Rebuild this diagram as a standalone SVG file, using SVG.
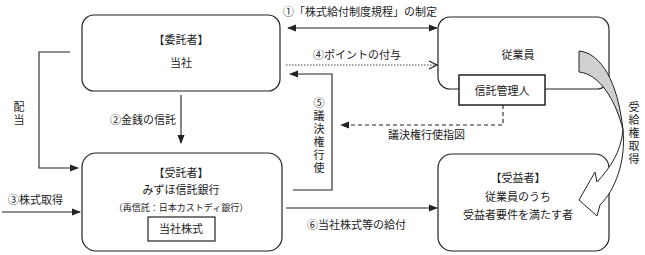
<svg xmlns="http://www.w3.org/2000/svg" width="645" height="255" viewBox="0 0 645 255">
<style>
text{font-family:"Noto Sans CJK JP","Noto Sans",sans-serif;font-size:11px;fill:#222}
.c{text-anchor:middle}
.v{writing-mode:vertical-rl;text-orientation:upright;letter-spacing:2px}
.box{fill:#fff;stroke:#222;stroke-width:1.2}
.ln{fill:none;stroke:#222;stroke-width:1.1}
.dot{fill:none;stroke:#444;stroke-width:1;stroke-dasharray:1.5 1.5}
.dash{fill:none;stroke:#222;stroke-width:1.1;stroke-dasharray:4 3}
.sm{font-size:9px}
</style>
<defs>
<marker id="ah" viewBox="0 0 10 10" refX="9" refY="5" markerWidth="9" markerHeight="9" markerUnits="userSpaceOnUse" orient="auto-start-reverse"><path d="M0,1 L10,5 L0,9 Z" fill="#222"/></marker>
<marker id="ao" viewBox="0 0 10 10" refX="9" refY="5" markerWidth="10" markerHeight="10" markerUnits="userSpaceOnUse" orient="auto"><path d="M1,1 L9,5 L1,9" fill="none" stroke="#222" stroke-width="1.2"/></marker>
</defs>

<g id="itakusha">
<rect class="box" x="82" y="15" width="198" height="76" rx="12"/>
<text class="c" x="181" y="44">【委託者】</text>
<text class="c" x="181" y="67">当社</text>
</g>

<g id="jutakusha">
<rect class="box" x="82" y="153" width="200" height="98" rx="14"/>
<text class="c" x="181" y="177">【受託者】</text>
<text class="c" x="181" y="194">みずほ信託銀行</text>
<text class="c sm" x="181" y="211">（再信託：日本カストディ銀行）</text>
<rect class="box" x="148" y="217" width="67" height="24" rx="0"/>
<text class="c" x="181" y="233">当社株式</text>
</g>

<g id="jugyoin">
<rect class="box" x="438" y="17" width="171" height="72" rx="12"/>
<text class="c" x="518" y="59">従業員</text>
</g>

<g id="shintakukanrinin">
<rect class="box" x="459" y="75" width="86" height="30" rx="0" style="stroke-width:1.5"/>
<text class="c" x="502" y="95">信託管理人</text>
</g>

<g id="juekisha">
<rect class="box" x="438" y="154" width="171" height="97" rx="14"/>
<text class="c" x="518" y="182">【受益者】</text>
<text class="c" x="518" y="201">従業員のうち</text>
<text class="c" x="518" y="219">受益者要件を満たす者</text>
</g>

<g id="connectors">
<path class="ln" d="M288,28 H437" marker-start="url(#ah)" marker-end="url(#ah)"/>
<path class="dot" d="M286,65 H437" marker-end="url(#ao)"/>
<path class="ln" d="M293,190 H332 V74 H290" marker-end="url(#ah)"/>
<path class="dash" d="M503,105 V125 H341" marker-end="url(#ah)"/>
<path class="ln" d="M181,95 V143" marker-end="url(#ah)"/>
<path class="ln" d="M70,52 H39 V168 H78" marker-end="url(#ah)"/>
<path class="ln" d="M2,212 H80" marker-end="url(#ah)"/>
<path class="ln" d="M286,208 H437" marker-end="url(#ah)"/>
<path d="M579,51 C601,53 618,82 623,130 C616,101 600,74 579,72 Z" fill="#d0d0d0" stroke="#222" stroke-width="1"/>
<path d="M623,130 C626,162 615,190 600,205 L597,216 L579,200 L595,172 L597,182 C610,168 621,152 623,130 Z" fill="#fff" stroke="#222" stroke-width="1"/>
</g>

<g id="labels">
<text x="283" y="16">①「株式給付制度規程」の制定</text>
<text x="313" y="59">④ポイントの付与</text>
<text x="110" y="124">②金銭の信託</text>
<text x="8" y="204">③株式取得</text>
<text x="307" y="229">⑥当社株式等の給付</text>
<text x="388" y="139">議決権行使指図</text>
<text class="v" x="19" y="101">配当</text>
<text class="v" x="319" y="97">⑤議決権行使</text>
<text class="v" x="634" y="101">受給権取得</text>
</g>
</svg>
